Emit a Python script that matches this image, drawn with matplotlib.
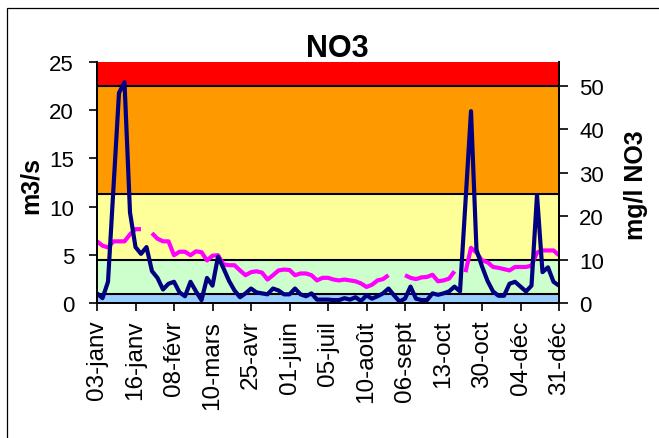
import numpy as np
import matplotlib
matplotlib.use('Agg')
import matplotlib.pyplot as plt
from matplotlib.patches import Rectangle

plt.rcParams['font.family'] = ['Liberation Sans', 'DejaVu Sans']

# débit (m3/s) - axe gauche
debit = [1.0, 0.5, 2.2, 12.0, 21.8, 22.9, 9.4, 5.8, 5.1, 5.8,
         3.3, 2.6, 1.4, 2.0, 2.2, 1.1, 0.7, 2.2, 1.2, 0.3,
         2.6, 1.8, 4.8, 3.6, 2.3, 1.3, 0.6, 1.0, 1.5, 1.1,
         1.0, 0.9, 1.5, 1.3, 0.9, 0.9, 1.5, 0.9, 0.7, 1.0,
         0.35, 0.35, 0.35, 0.3, 0.3, 0.5, 0.35, 0.6, 0.2, 0.8,
         0.45, 0.7, 1.0, 1.5, 0.8, 0.15, 0.45, 1.7, 0.45, 0.3,
         0.3, 1.0, 0.85, 1.0, 1.2, 1.7, 1.2, 10.5, 19.9, 5.5,
         3.8, 2.3, 1.2, 0.75, 0.75, 2.0, 2.2, 1.7, 1.2, 1.8,
         11.2, 3.2, 3.7, 2.2, 1.8]

# nitrates (mg/l NO3) - axe droit
nan = np.nan
no3 = [14.2, 13.2, 12.8, 14.2, 14.2, 14.2, 15.8, 17.0, 17.0, nan,
       16.1, 14.8, 14.2, 14.2, 11.0, 11.8, 11.8, 11.0, 11.9, 11.7,
       9.8, 10.9, 11.0, 8.9, 8.7, 8.7, 7.5, 6.4, 7.1, 7.3,
       7.0, 5.4, 6.4, 7.5, 7.7, 7.6, 6.4, 6.8, 6.8, 6.4,
       5.2, 5.8, 5.8, 5.4, 5.2, 5.4, 5.2, 5.0, 4.5, 3.7,
       4.2, 5.2, 5.5, 6.4, nan, nan, 6.4, 5.8, 5.5, 5.9,
       6.0, 6.5, 5.0, 5.2, 5.6, 7.3, nan, 7.1, 12.7, 11.6,
       9.8, 9.4, 8.3, 8.1, 7.8, 7.5, 8.3, 8.3, 8.3, 8.6,
       11.6, 12.1, 12.1, 12.1, 11.0]

tick_labels = ['03-janv', '16-janv', '08-févr', '10-mars', '25-avr', '01-juin',
               '05-juil', '10-août', '06-sept', '13-oct', '30-oct', '04-déc', '31-déc']
tick_step = 7

# classes de qualité (mg/l)
band_edges = [0, 2, 10, 25, 50, 55.5]
band_colors = ['#99CCFF', '#CCFFCC', '#FFFF99', '#FF9900', '#FF0000']

x = np.arange(len(debit))

fig = plt.figure(figsize=(6.59, 4.39), dpi=100)
ax = fig.add_axes([97 / 659, 1 - 304 / 439, 462 / 659, 241 / 439])
ax2 = ax.twinx()
ax.set_zorder(2)
ax2.set_zorder(1)
ax.patch.set_visible(False)

for i in range(len(band_colors)):
    ax2.axhspan(band_edges[i], band_edges[i + 1], color=band_colors[i], lw=0)
for e in band_edges[1:-1]:
    ax2.axhline(e, color='black', lw=1.5)

ax2.plot(x, no3, color='#FF00FF', lw=3, solid_capstyle='butt', solid_joinstyle='round')
ax.plot(x, debit, color='#000080', lw=3, solid_capstyle='butt', solid_joinstyle='round')

ax.set_xlim(0, len(debit) - 1)
ax.set_ylim(0, 25)
ax2.set_ylim(0, band_edges[-1])
ax.set_yticks(range(0, 26, 5))
ax2.set_yticks(range(0, 51, 10))
ticks = list(range(0, len(debit), tick_step))
ax.set_xticks(ticks)
ax.set_xticklabels(tick_labels, rotation=90, fontsize=17.5)

ax.tick_params(axis='y', labelsize=16, length=5.5, width=1.2, pad=11)
ax.tick_params(axis='x', length=6, width=1.2, pad=6)
ax2.tick_params(axis='y', labelsize=16, length=6.5, width=1.2, pad=8)

for a in (ax, ax2):
    a.spines['top'].set_visible(False)
    for s in ('left', 'right', 'bottom'):
        a.spines[s].set_linewidth(1.3)

fig.text(337.5 / 659, 1 - 57 / 439, 'NO3', ha='center', va='baseline',
         fontsize=22, fontweight='bold')
fig.text(30.5 / 659, 1 - 185 / 439, 'm3/s', rotation=90, ha='center', va='center',
         fontsize=18, fontweight='bold')
fig.text(636 / 659, 1 - 185 / 439, 'mg/l NO3', rotation=90, ha='center', va='center',
         fontsize=18, fontweight='bold')

# cadre du graphique
fig.patches.append(Rectangle((7 / 659, -0.1), 1.2, 1.1 - 9 / 439, transform=fig.transFigure,
                             fill=False, edgecolor='black', lw=0.9))

fig.savefig('out.png', dpi=100)
